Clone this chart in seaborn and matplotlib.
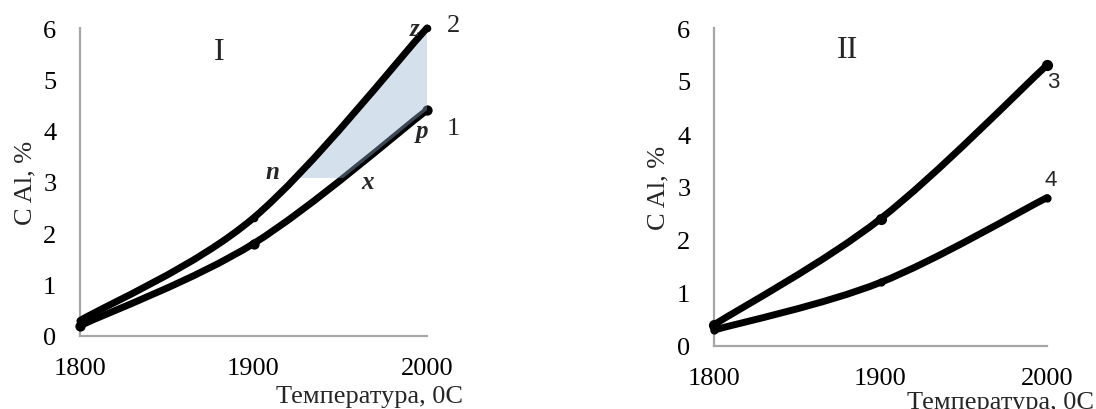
import numpy as np
import pandas as pd
import matplotlib
matplotlib.use("Agg")
import matplotlib.pyplot as plt
from matplotlib.path import Path
from matplotlib.patches import PathPatch, Rectangle
import seaborn as sns

# Temperature, °C
temperature = [1800, 1900, 2000]

# Al concentration, %
c_al_1 = [0.2, 1.8, 4.4]
c_al_2 = [0.3, 2.3, 6.0]
c_al_3 = [0.4, 2.4, 5.3]
c_al_4 = [0.3, 1.2, 2.8]

x_ticks = [1800, 1900, 2000]
y_ticks = [0, 1, 2, 3, 4, 5, 6]
y_label = "C Al, %"
x_label = "Температура, 0C"

# lower edge of the shaded band between curves 1 and 2
band_floor = 3.07

sns.set_theme(style="white")
plt.rcParams["font.family"] = ["Liberation Serif", "DejaVu Serif"]

SPINE = "#a6a6a6"
LINE_W = 5.0
SANS = ["Liberation Sans", "DejaVu Sans"]


def smooth_path(xs, ys):
    """Cubic Bezier path through the points (Catmull-Rom style smoothing)."""
    pts = np.column_stack([xs, ys]).astype(float)
    n = len(pts)
    verts = [pts[0]]
    codes = [Path.MOVETO]
    for i in range(n - 1):
        p0 = pts[max(i - 1, 0)]
        p1 = pts[i]
        p2 = pts[i + 1]
        p3 = pts[min(i + 2, n - 1)]
        c1 = p1 + (p2 - p0) / 6.0
        c2 = p2 - (p3 - p1) / 6.0
        verts += [c1, c2, p2]
        codes += [Path.CURVE4] * 3
    return np.array(verts), codes


def draw_curve(ax, xs, ys, z=3, marker_size=55):
    verts, codes = smooth_path(xs, ys)
    ax.add_patch(PathPatch(Path(verts, codes), fill=False, edgecolor="black",
                           lw=LINE_W, capstyle="round", joinstyle="round",
                           zorder=z, clip_on=False))
    df = pd.DataFrame({"t": xs, "c": ys})
    sns.scatterplot(data=df, x="t", y="c", ax=ax, color="black", s=marker_size,
                    edgecolor="black", linewidth=0, zorder=z + 0.5, clip_on=False)


def style_axes(ax):
    ax.set_xlim(1800, 2000)
    ax.set_ylim(0, 6)
    ax.set_xticks(x_ticks)
    ax.set_yticks(y_ticks)
    ax.set_xlabel("")
    ax.set_ylabel("")
    for side in ("top", "right"):
        ax.spines[side].set_visible(False)
    for side in ("left", "bottom"):
        ax.spines[side].set_color(SPINE)
        ax.spines[side].set_linewidth(1.6)
    ax.tick_params(axis="both", which="both", direction="out", length=7,
                   width=1.6, color=SPINE, labelsize=19, labelcolor="black")
    ax.tick_params(axis="x", pad=8)
    ax.tick_params(axis="y", pad=10)
    ax.set_facecolor("white")


fig = plt.figure(figsize=(10.96, 4.10), dpi=100)
fig.patch.set_facecolor("white")

ax1 = fig.add_axes([80 / 1096, 1 - 337 / 410, 347 / 1096, 308 / 410])
ax2 = fig.add_axes([714 / 1096, 1 - 347 / 410, 333 / 1096, 318 / 410])

# ---- panel I ----
draw_curve(ax1, temperature, c_al_1, z=3)

# shaded band between curve 2 and curve 1 above the floor level
v2, k2 = smooth_path(temperature, c_al_2)
v1, k1 = smooth_path(temperature, c_al_1)
band_verts = np.vstack([v2, v1[::-1], v2[:1]])
band_codes = list(k2) + [Path.LINETO] + [Path.CURVE4] * (len(v1) - 1) + [Path.CLOSEPOLY]
band = PathPatch(Path(band_verts, band_codes), facecolor="#98b2d4", edgecolor="none",
                 alpha=0.4, zorder=4)
ax1.add_patch(band)
clip = Rectangle((1800, band_floor), 200, 6 - band_floor, transform=ax1.transData)
band.set_clip_path(clip)

draw_curve(ax1, temperature, c_al_2, z=5, marker_size=30)
style_axes(ax1)

ax1.text(1880, 5.55, "I", fontsize=23, ha="center", va="center")
ax1.text(2015, 6.05, "2", fontsize=19, ha="center", va="center", clip_on=False)
ax1.text(2015, 4.05, "1", fontsize=19, ha="center", va="center", clip_on=False)
ax1.text(1993, 6.0, "z", fontsize=18, weight="bold", style="italic",
         ha="center", va="center", zorder=6)
ax1.text(1997, 4.0, "p", fontsize=18, weight="bold", style="italic",
         ha="center", va="center", zorder=6)
ax1.text(1911, 3.2, "n", fontsize=18, weight="bold", style="italic",
         ha="center", va="center")
ax1.text(1966, 3.0, "x", fontsize=18, weight="bold", style="italic",
         ha="center", va="center")

# ---- panel II ----
draw_curve(ax2, temperature, c_al_3, z=3, marker_size=65)
draw_curve(ax2, temperature, c_al_4, z=3, marker_size=35)
style_axes(ax2)
ax2.text(1880, 5.6, "II", fontsize=23, ha="center", va="center")
ax2.text(2004, 5.0, "3", fontsize=16, family=SANS,
         ha="center", va="center", clip_on=False)
ax2.text(2002, 3.15, "4", fontsize=16, family=SANS,
         ha="center", va="center", clip_on=False)

# axis titles
fig.text(25 / 1096, 1 - 183 / 410, y_label, rotation=90, fontsize=19,
         ha="center", va="center")
fig.text(658 / 1096, 1 - 188 / 410, y_label, rotation=90, fontsize=19,
         ha="center", va="center")
fig.text(463 / 1096, 1 - 403 / 410, x_label, fontsize=19, ha="right", va="baseline")
fig.text(1094 / 1096, 1 - 409 / 410, x_label, fontsize=19, ha="right", va="baseline")

fig.savefig("out.png", dpi=100, facecolor="white")
